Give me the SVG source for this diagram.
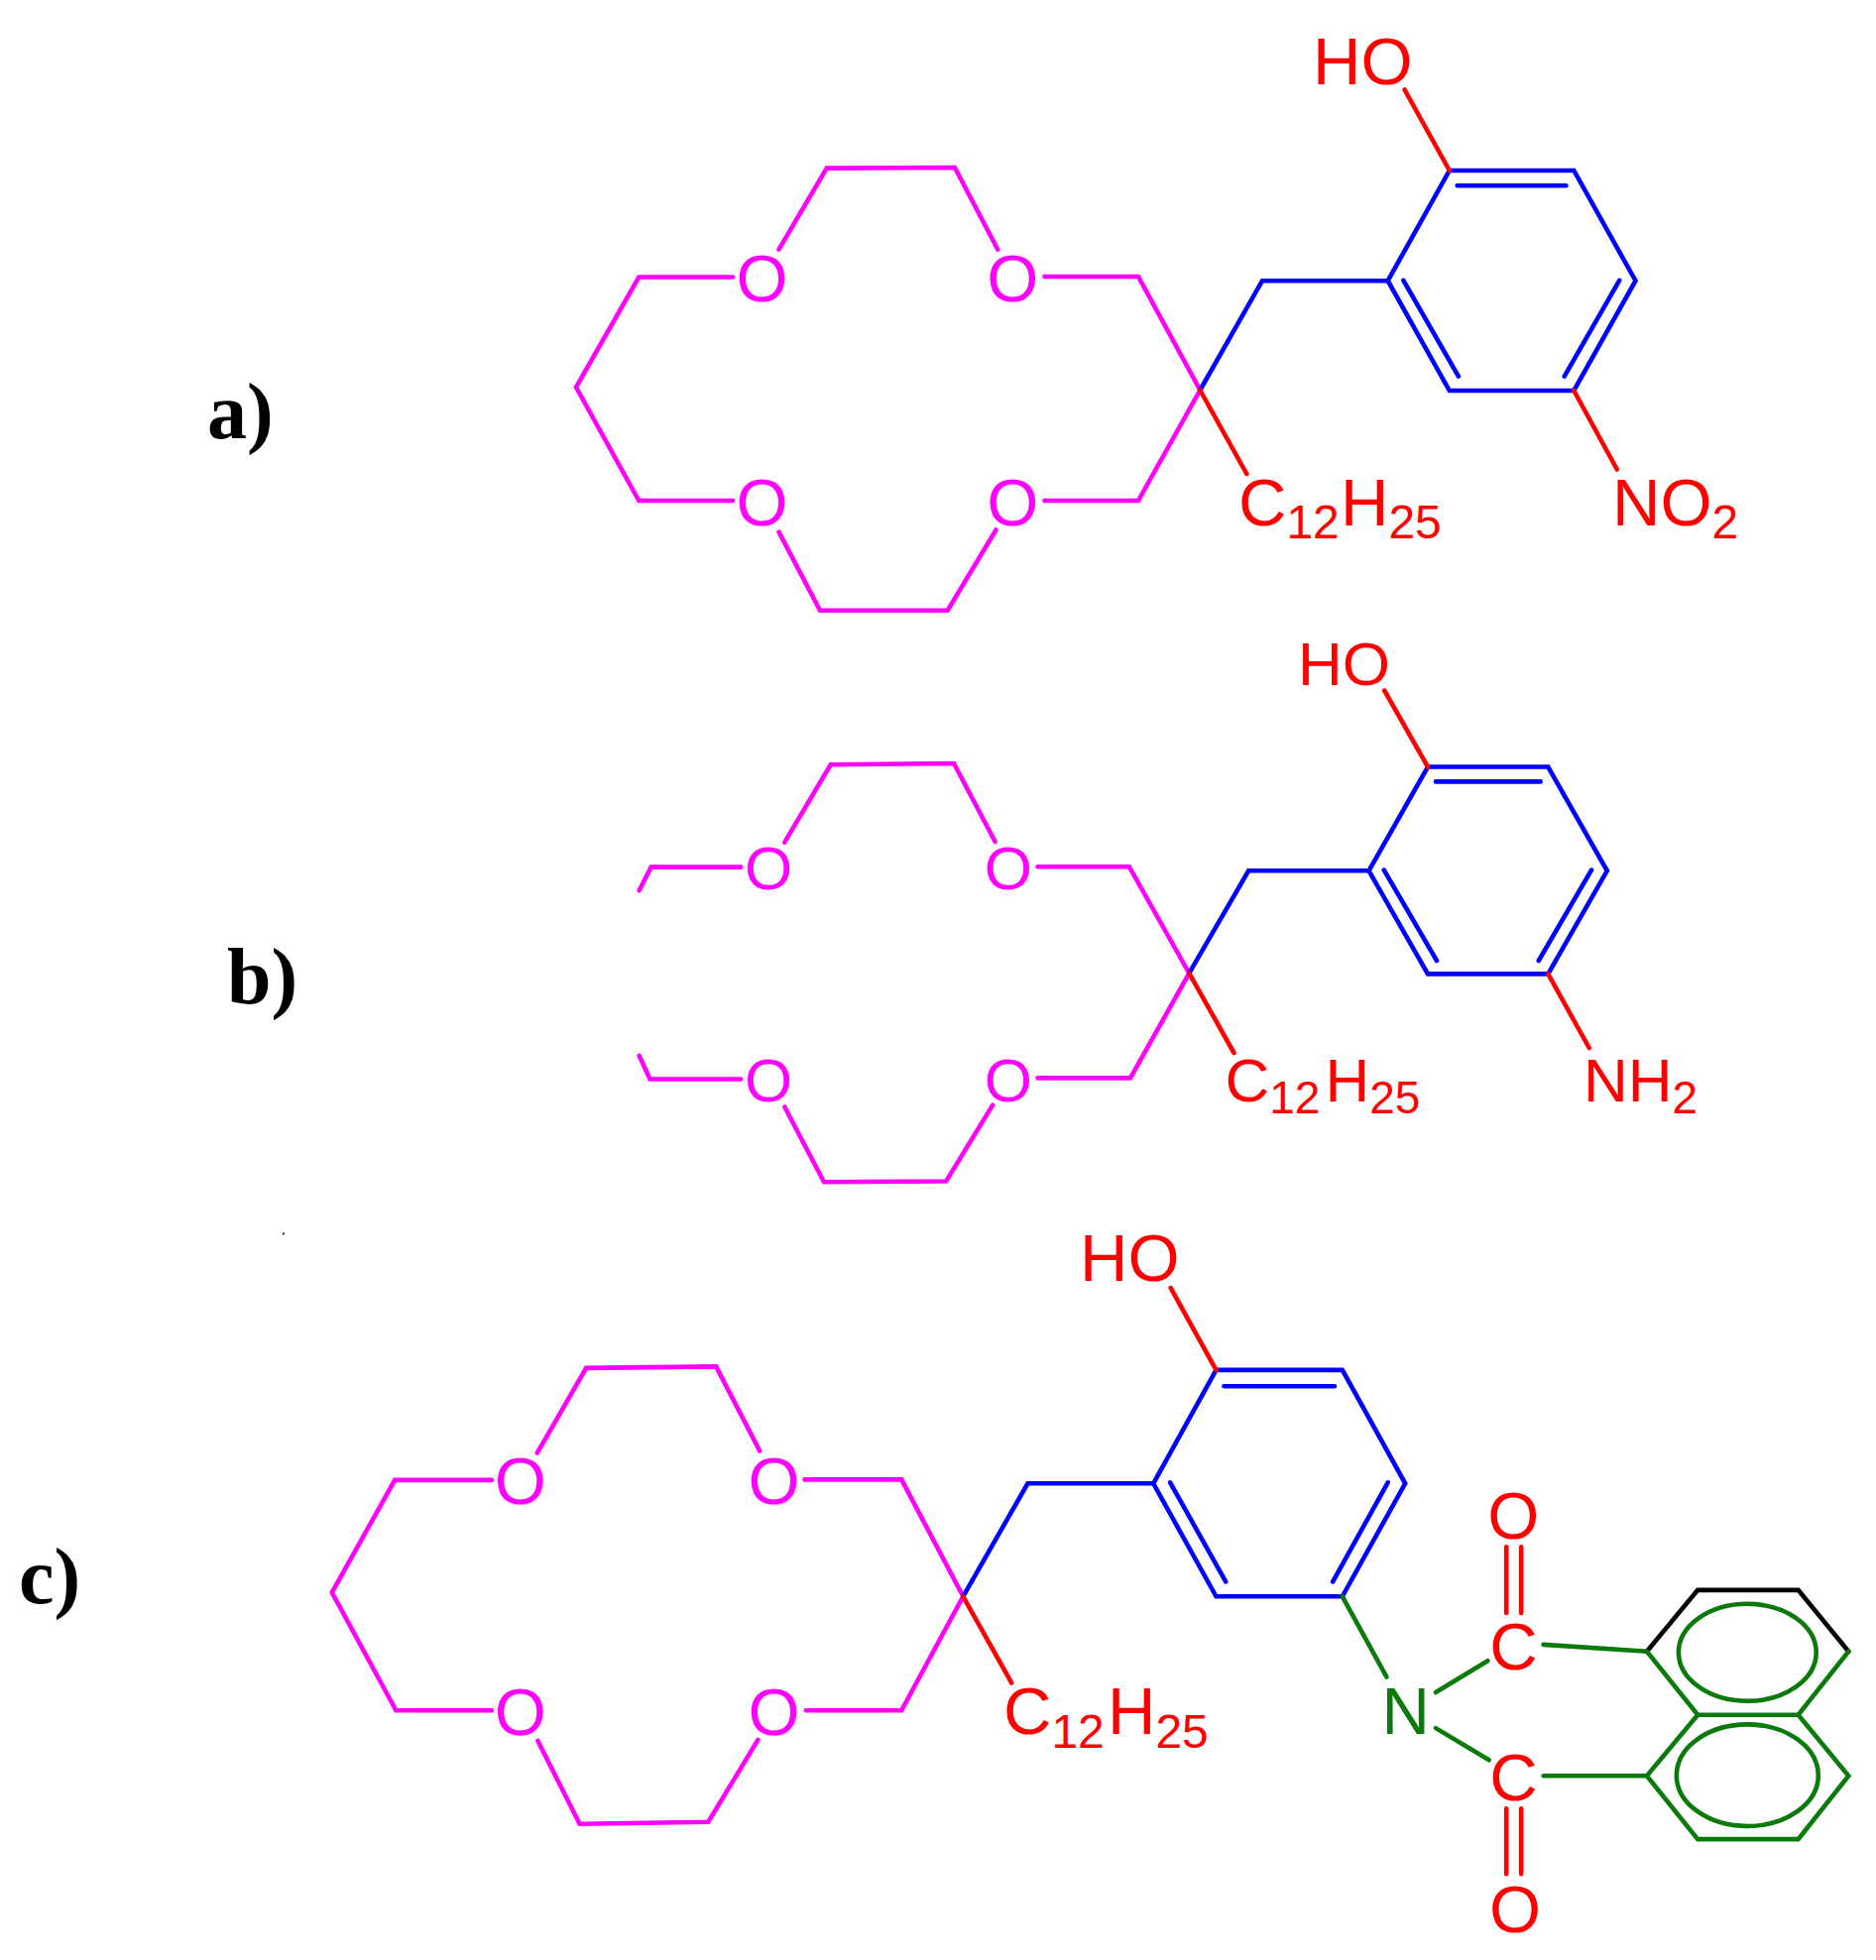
<svg xmlns="http://www.w3.org/2000/svg" width="1892" height="1977" viewBox="0 0 1892 1977">
<style>
.b{fill:none;stroke-width:4.6;stroke-linejoin:miter;stroke-linecap:round}
.m{stroke:#ff00ff}.u{stroke:#0000ff}.r{stroke:#ff0000}.g{stroke:#0a7a0a}.k{stroke:#000}
text{font-family:"Liberation Sans",Arial,sans-serif;font-size:67px}
.tm{fill:#ff00ff}.tr{fill:#ff0000}.tg{fill:#0a7a0a}
.s{font-size:48px}
.sb{font-size:62px}.sbs{font-size:46px}
.lab{font-family:"Liberation Serif","Times New Roman",serif;font-weight:bold;font-size:80px;fill:#000}
</style>
<rect width="1892" height="1977" fill="#fff"/>
<g id="connectors">
<g id="bonds-a">
<path class="b m" d="M739 279.500H644.300L581 390.600L644.300 505H739"/>
<path class="b m" d="M785.500 251.700L833.800 169.600L962.900 169L1006.300 251.700"/>
<path class="b m" d="M785.500 536.600L827 615.700L955.700 615.700L1004.500 534.500"/>
<path class="b m" d="M1053.400 279H1148L1210.300 393.500L1148 505H1053.400"/>
<path class="b u" d="M1210.300 393.500L1273 283.200H1399.700"/>
<path class="b u" d="M1399.700 283.200L1461.800 172H1587.300L1649.500 283.200L1587.300 394H1461.800Z"/>
<path class="b u" d="M1469.700 187.300H1579.500M1415.400 282.800L1470.900 379.600M1633.200 282.800L1577.700 379.600"/>
<path class="b r" d="M1416.600 90.500L1461.800 172M1210.300 393.500L1257.300 478M1587.300 394L1630.800 473.500"/>
</g>
<g id="bonds-b">
<path class="b m" d="M747.200 874.600H656.700L644.600 898.300"/>
<path class="b m" d="M644.600 1064.800L655.500 1088.500H747.200"/>
<path class="b m" d="M791.300 849.700L837.700 771.300L962 770L1003.600 849"/>
<path class="b m" d="M791.300 1116.500L831 1192.200L954.200 1191.500L1001.200 1114.600"/>
<path class="b m" d="M1046.500 874.200H1138.800L1199.300 981.700L1140 1087.400H1046.500"/>
<path class="b u" d="M1199.300 981.700L1259.200 878.300H1380.500"/>
<path class="b u" d="M1380.500 878.300L1440 773.500H1561.300L1620.800 878.300L1561.300 982.400H1440Z"/>
<path class="b u" d="M1448 788.400H1553.700M1395.800 877.600L1449 969M1605 877.600L1551.800 969"/>
<path class="b r" d="M1396.200 696.500L1440 773.500M1199.300 981.700L1244.500 1062M1561.300 982.400L1602.700 1057"/>
</g>
<g id="bonds-c">
<path class="b m" d="M496 1492.900H398.200L334.800 1606.300L399.400 1725.300H496"/>
<path class="b m" d="M541.800 1465.600L591.200 1379.900L722.200 1378.400L766.200 1463.600"/>
<path class="b m" d="M542.400 1756L584.600 1839.700L714.300 1837.800L764.400 1755"/>
<path class="b m" d="M811.500 1492.400H909.200L971.300 1610.300L909.200 1725.300H812.700"/>
<path class="b u" d="M971.300 1610.300L1036.500 1496.300H1163.200"/>
<path class="b u" d="M1163.200 1496.300L1226.500 1381.900H1353.800L1417.200 1496.300L1353.800 1610.300H1226.500Z"/>
<path class="b u" d="M1234.400 1398.200H1346M1180.100 1495.300L1236.200 1595.400M1399.700 1495.300L1344.200 1595.400"/>
<path class="b r" d="M1180.700 1299.100L1226.500 1381.900M971.300 1610.300L1020.200 1697.500"/>
<path class="b r" d="M1519.200 1560.300V1627M1534.200 1560.300V1627M1519.200 1824.400V1890.300M1534.200 1824.400V1890.300"/>
<path class="b g" d="M1353.800 1610.300L1398.500 1691.600M1448 1707L1500.400 1675.200M1448 1743.100L1501.700 1775.300"/>
<path class="b g" d="M1556.600 1658.900L1660.900 1665.800M1556.600 1791.200H1660.900"/>
<path class="b k" d="M1660.900 1665.800L1712.200 1603.900H1813.600L1864.300 1665.800"/>
<path class="b g" d="M1660.900 1665.800L1712.200 1729.700H1813.600L1864.300 1665.800"/>
<path class="b g" d="M1712.200 1729.700L1660.900 1791.200L1712.200 1855.100H1813.600L1864.300 1791.200L1813.600 1729.700"/>
<ellipse class="b g" cx="1762.300" cy="1666.800" rx="69.400" ry="49"/>
<ellipse class="b g" cx="1762.300" cy="1790.700" rx="71.500" ry="51.300"/>
</g>
</g>
<g id="panel-a">
<g id="label-a"><text class="lab" x="209" y="442">a)</text></g>
<g id="a-o1"><text class="tm" x="742.500" y="304">O</text></g>
<g id="a-o2"><text class="tm" x="995.300" y="304">O</text></g>
<g id="a-o3"><text class="tm" x="742.500" y="529.500">O</text></g>
<g id="a-o4"><text class="tm" x="995.300" y="529.500">O</text></g>
<g id="a-ho"><text class="tr" x="1324" y="85.400">HO</text></g>
<g id="a-c12h25"><text class="tr" x="1249" y="529.500">C<tspan class="s" dy="13.500">12</tspan><tspan x="1352" dy="-13.500">H</tspan><tspan class="s" dy="13.500">25</tspan></text></g>
<g id="a-no2"><text class="tr" x="1626" y="529.500">NO<tspan class="s" dy="13.500">2</tspan></text></g>
</g>
<g id="panel-b">
<g id="label-b"><text class="lab" x="229" y="1012">b)</text></g>
<g id="b-o1"><text class="tm sb" x="750.900" y="897">O</text></g>
<g id="b-o2"><text class="tm sb" x="992.800" y="897">O</text></g>
<g id="b-o3"><text class="tm sb" x="750.900" y="1110.500">O</text></g>
<g id="b-o4"><text class="tm sb" x="992.800" y="1110.500">O</text></g>
<g id="b-ho"><text class="tr sb" x="1309" y="691.200">HO</text></g>
<g id="b-c12h25"><text class="tr sb" x="1235.500" y="1110.600">C<tspan class="sbs" dy="12.700">12</tspan><tspan x="1336.500" dy="-12.700">H</tspan><tspan class="sbs" dy="12.700">25</tspan></text></g>
<g id="b-nh2"><text class="tr sb" x="1597" y="1110.600">NH<tspan class="sbs" dy="12.700">2</tspan></text></g>
</g>
<g id="panel-c">
<g id="label-c"><text class="lab" x="19" y="1617">c)</text></g>
<rect id="speck" x="285" y="1243.500" width="2" height="2" fill="#333"/>
<g id="c-o1"><text class="tm" x="498.800" y="1517">O</text></g>
<g id="c-o2"><text class="tm" x="754.600" y="1517">O</text></g>
<g id="c-o3"><text class="tm" x="498.800" y="1749.500">O</text></g>
<g id="c-o4"><text class="tm" x="754.600" y="1749.500">O</text></g>
<g id="c-ho"><text class="tr" x="1089" y="1292">HO</text></g>
<g id="c-c12h25"><text class="tr" x="1012" y="1749">C<tspan class="s" dy="14.400">12</tspan><tspan x="1117" dy="-14.400">H</tspan><tspan class="s" dy="14.400">25</tspan></text></g>
<g id="c-n"><text class="tg" x="1393.500" y="1749">N</text></g>
<g id="c-c1"><text class="tr" x="1502.200" y="1684">C</text></g>
<g id="c-c2"><text class="tr" x="1502.200" y="1816">C</text></g>
<g id="c-o5"><text class="tr" x="1500.300" y="1552">O</text></g>
<g id="c-o6"><text class="tr" x="1501.900" y="1949">O</text></g>
</g>
</svg>
